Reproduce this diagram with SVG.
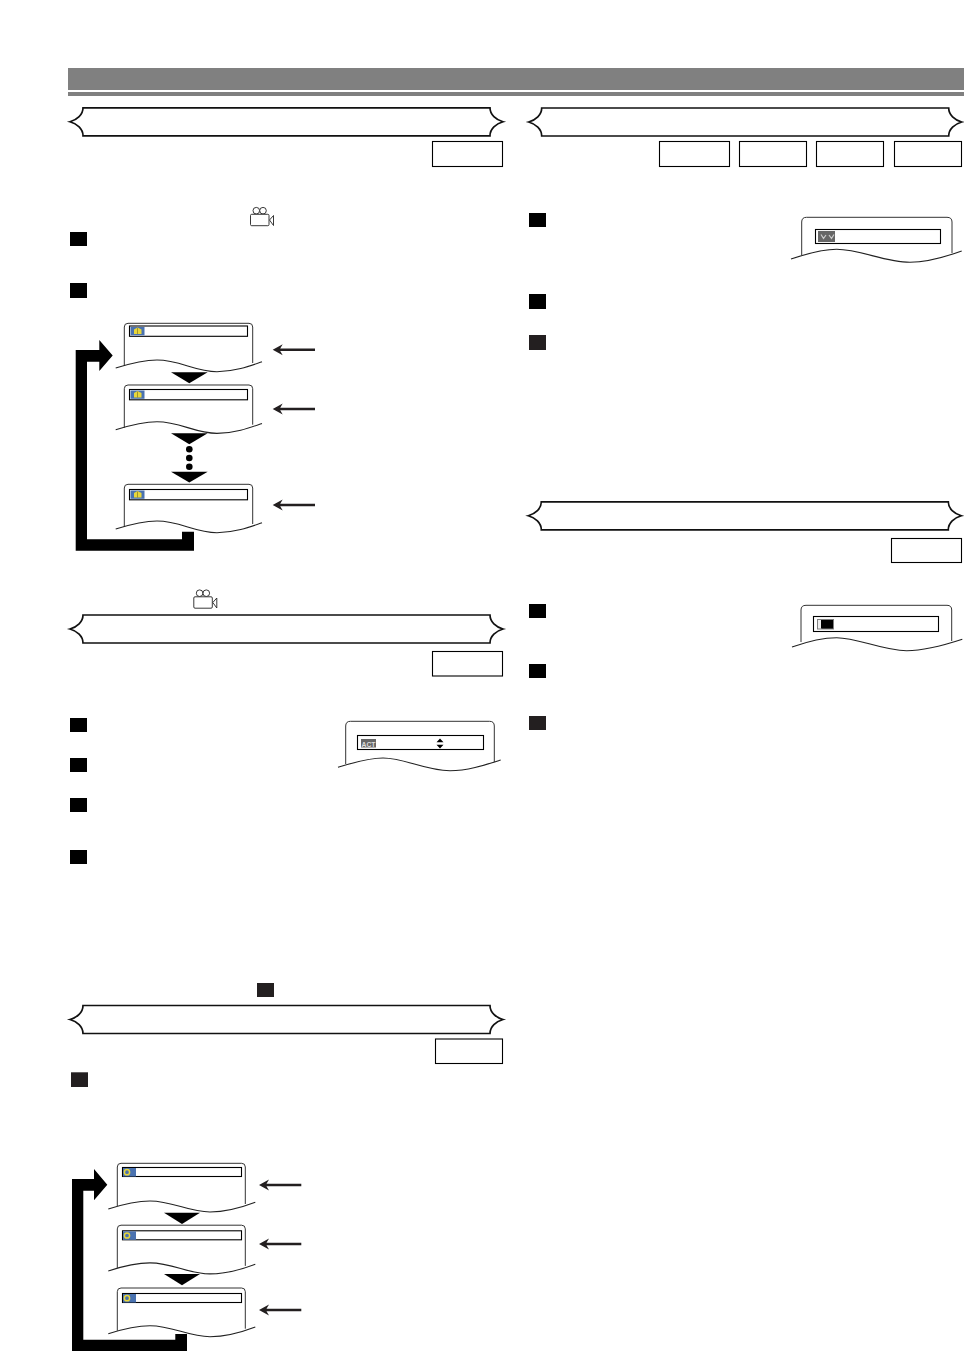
<svg xmlns="http://www.w3.org/2000/svg" xmlns:xlink="http://www.w3.org/1999/xlink" width="964" height="1354" viewBox="0 0 964 1354">
<style>
.bar{fill:#808080}
.ban{fill:#fff;stroke:#111;stroke-width:1.7}
.box{fill:#fff;stroke:#000;stroke-width:1.1}
.sq{fill:#000}
.sqd{fill:#231f20}
.scr{fill:none;stroke:#333;stroke-width:1}
.wave{fill:none;stroke:#222;stroke-width:1.1}
.ln{fill:#fff;stroke:#000;stroke-width:1.1}
.tri{fill:#000}
.cam{fill:#fff;stroke:#222;stroke-width:.9}
.thin{fill:#231f20}
.lbl{font-family:"Liberation Sans",Arial,sans-serif;font-size:8px;font-weight:bold;fill:#ddd}
</style>
<defs>
<path id="banL" class="ban" d="M83 0H490C490 7 496 12 503 14C496 16 490 21 490 28H83C83 21 77 16 70 14C77 12 83 7 83 0Z"/>
<g id="frameA">
<path class="scr" d="M124.300 366V327Q124.300 323.300 128 323.300H249Q252.700 323.300 252.700 327V363"/>
<path class="wave" d="M115.700 368C135 362 148 360 157 360C180 360 195 371.700 217 371.700C235 371.700 250 366 262 361.700"/>
</g>
<g id="barA">
<rect class="ln" x="129.500" y="326" width="118" height="10.300"/>
<rect x="130.500" y="327" width="14" height="8.300" fill="#4a72b0"/>
<path d="M134 329.500L137.500 327.500L141.500 329.500V334H134Z" fill="#e8d63a"/>
<path d="M137.500 328V334" stroke="#8a7a20" stroke-width=".7"/>
</g>
<g id="frameB">
<path class="scr" d="M117.300 1206V1167Q117.300 1163.300 121 1163.300H241.600Q245.300 1163.300 245.300 1167V1204"/>
<path class="wave" d="M108.300 1209C127 1203 140 1201 150 1201C173 1201 188 1212 210 1212C228 1212 243 1207 255.300 1202.300"/>
</g>
<g id="barB">
<rect class="ln" x="122.500" y="1167.500" width="119" height="9"/>
<rect x="123" y="1168" width="13" height="8.500" fill="#4a72b0"/>
<circle cx="127" cy="1172.200" r="2.600" fill="#4a72b0" stroke="#e8d63a" stroke-width="1.500"/>
</g>
<g id="thinArrow">
<path class="thin" d="M0 0L10 -5.500L7.500 -1.200H42.300V1.200H7.500L10 5.500Z"/>
</g>
<g id="camIcon">
<circle class="cam" cx="6.300" cy="3.700" r="3.300"/>
<circle class="cam" cx="13" cy="3.700" r="3.300"/>
<rect class="cam" x="0.500" y="7.300" width="18.500" height="11.400" rx="1.200"/>
<path class="cam" d="M19.500 13L23.500 8.500V18.500Z"/>
</g>
</defs>

<g id="header">
<rect class="bar" x="68" y="68" width="896" height="22"/>
<rect class="bar" x="68" y="92" width="896" height="4"/>
</g>

<g id="section-angle">
<use id="banner-1" href="#banL" y="107.800"/>
<rect class="box" x="432.500" y="141.500" width="70" height="25"/>
<use href="#camIcon" x="250" y="207"/>
<rect class="sq" x="70" y="232" width="17" height="14"/>
<rect class="sq" x="70" y="283" width="17" height="15"/>
</g>

<g id="screens-angle">
<use href="#frameA"/>
<use href="#barA"/>
<use href="#frameA" y="61.700"/>
<use href="#barA" y="63.500"/>
<use href="#frameA" y="161"/>
<use href="#barA" y="163.500"/>
</g>

<g id="connectors">
<path class="tri" d="M171 372.300H207.700L189.300 383.300Z"/>
<path class="tri" d="M171 433.300H207.700L189.300 444.300Z"/>
<circle class="tri" cx="189.300" cy="449.300" r="3.300"/>
<circle class="tri" cx="189.300" cy="458" r="3.300"/>
<circle class="tri" cx="189.300" cy="466.700" r="3.300"/>
<path class="tri" d="M171 471.700H207.700L189.300 482.500Z"/>
<path class="tri" d="M75.700 550.700V350H99.300V340L112.700 355.500L99.300 371V361.700H87V539.300H182V531.700H194V550.700Z"/>
<use href="#thinArrow" x="272.700" y="349.800"/>
<use href="#thinArrow" x="272.700" y="409"/>
<use href="#thinArrow" x="272.700" y="505"/>
<path class="tri" d="M164 1212.700H200L182 1224Z"/>
<path class="tri" d="M164 1274H200L182 1285.300Z"/>
<path class="tri" d="M72 1351V1179H94V1169L107.300 1184.700L94 1200.300V1190.700H83.300V1339.700H175.300V1334H187V1351Z"/>
<use href="#thinArrow" x="259" y="1185"/>
<use href="#thinArrow" x="259" y="1244"/>
<use href="#thinArrow" x="259" y="1310"/>
</g>

<g id="section-pict">
<use href="#camIcon" x="193.300" y="589.500"/>
<use id="banner-2" href="#banL" y="615"/>
<rect class="box" x="432.500" y="651.500" width="70" height="24.500"/>
<rect class="sq" x="70" y="718" width="17" height="14"/>
<rect class="sq" x="70" y="758" width="17" height="14"/>
<rect class="sq" x="70" y="798" width="17" height="14"/>
<rect class="sq" x="70" y="850" width="17" height="14"/>
<rect class="sqd" x="257" y="983" width="17" height="14"/>
</g>

<g id="screen-act">
<path class="scr" d="M345.700 764V726Q345.700 721.300 350.500 721.300H489.500Q494.300 721.300 494.300 726V762"/>
<path class="wave" d="M338 767.300C355 762 370 758 383 758C405 758 425 770.700 450 770.700C468 770.700 485 765 500.700 760"/>
<rect class="ln" x="357.500" y="735.500" width="126" height="14"/>
<rect x="361" y="739" width="15" height="8.500" fill="#666"/>
<text class="lbl" x="361.500" y="746.500" textLength="14" lengthAdjust="spacingAndGlyphs">ACT</text>
<path d="M440 738.500L443.500 742.300H436.500ZM440 748.500L443.500 744.700H436.500Z" fill="#000"/>
</g>

<g id="section-ban3">
<use id="banner-3" href="#banL" y="1005.500"/>
<rect class="box" x="435.500" y="1039" width="67" height="24.500"/>
<rect class="sqd" x="71" y="1072.300" width="17" height="14.700"/>
</g>

<g id="screens-ban3">
<use href="#frameB"/>
<use href="#barB"/>
<use href="#frameB" y="61.900"/>
<use href="#barB" y="63.300"/>
<use href="#frameB" y="124.700"/>
<use href="#barB" y="126"/>
</g>

<g id="section-right-1">
<use id="banner-4" href="#banL" x="458.700" y="108"/>
<rect class="box" x="659.500" y="141.500" width="70" height="25"/>
<rect class="box" x="739.500" y="141.500" width="67" height="25"/>
<rect class="box" x="816.500" y="141.500" width="67" height="25"/>
<rect class="box" x="894.500" y="141.500" width="67" height="25"/>
<rect class="sq" x="529" y="213" width="17" height="14"/>
<rect class="sq" x="529" y="294" width="17" height="15"/>
<rect class="sqd" x="529" y="335" width="17" height="15"/>
</g>

<g id="screen-right-1">
<path class="scr" d="M801.700 255V222Q801.700 217.300 806.500 217.300H947Q952 217.300 952 222V253"/>
<path class="wave" d="M791 259C806 254 822 249.300 836.700 249.300C860 249.300 885 262.300 910 262.300C928 262.300 945 257 961.700 251"/>
<rect class="ln" x="815.500" y="229.500" width="125" height="14"/>
<rect x="818" y="231" width="17" height="11" fill="#666"/>
<path d="M821 234.500L823.500 238.500L826 235M829 235L831.500 238.500L834 234.500" fill="none" stroke="#ccc" stroke-width="1.200"/>
</g>

<g id="section-right-2">
<use id="banner-5" href="#banL" x="458.300" y="501.800"/>
<rect class="box" x="891.500" y="538.500" width="70" height="24"/>
<rect class="sq" x="529" y="604" width="17" height="14"/>
<rect class="sq" x="529" y="664" width="17" height="14"/>
<rect class="sqd" x="529" y="716" width="17" height="14"/>
</g>

<g id="screen-right-2">
<path class="scr" d="M801 642V610Q801 605.300 806 605.300H947Q951.700 605.300 951.700 610V641"/>
<path class="wave" d="M792 647C806 642 822 637.700 836.700 637.700C858 637.700 882 650.700 906.700 650.700C926 650.700 945 645 962.300 639.300"/>
<rect class="ln" x="813.500" y="616.500" width="125" height="15"/>
<rect x="817" y="619" width="17" height="10.500" fill="#808080"/>
<rect x="818" y="620" width="4" height="8.500" fill="#eee"/>
<rect x="821" y="620" width="12" height="8.500" fill="#000"/>
</g>
</svg>
